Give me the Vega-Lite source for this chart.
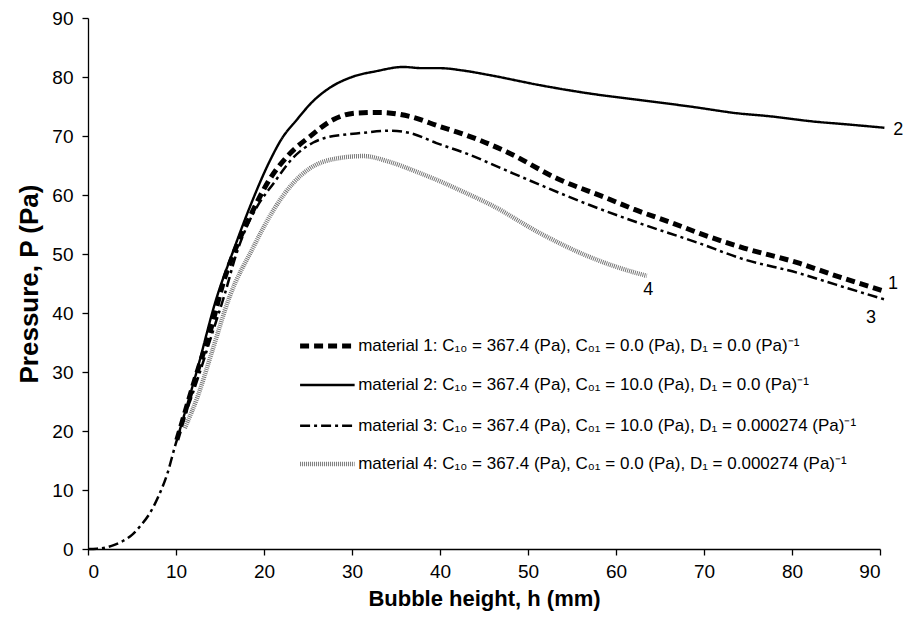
{
  "$schema": "https://vega.github.io/schema/vega-lite/v6.json",
  "autosize": "none",
  "width": 792,
  "height": 531,
  "padding": {"left": 88, "top": 18, "right": 31, "bottom": 71},
  "background": "white",
  "config": {
    "view": {"stroke": null},
    "font": "Liberation Sans",
    "axis": {
      "domainColor": "black", "tickColor": "black", "labelColor": "black", "titleColor": "black",
      "grid": false, "tickSize": 6, "domainWidth": 1.3, "tickWidth": 1.3,
      "labelFontSize": 19, "titleFontSize": 21, "titleFontWeight": "bold", "labelFont": "Liberation Sans", "titleFont": "Liberation Sans"
    }
  },
  "datasets": {
    "curves": [
      {"m": "3", "x": 0, "y": 0}, {"m": "3", "x": 1, "y": 0.05}, {"m": "3", "x": 2, "y": 0.25}, {"m": "3", "x": 3, "y": 0.7},
      {"m": "3", "x": 4, "y": 1.4}, {"m": "3", "x": 5, "y": 2.4}, {"m": "3", "x": 6, "y": 4.0}, {"m": "3", "x": 7, "y": 6.0},
      {"m": "3", "x": 8, "y": 8.9}, {"m": "3", "x": 9, "y": 12.7}, {"m": "3", "x": 10, "y": 18.0}, {"m": "3", "x": 11, "y": 22.5},
      {"m": "3", "x": 12.5, "y": 29}, {"m": "3", "x": 14, "y": 36}, {"m": "3", "x": 15.5, "y": 43}, {"m": "3", "x": 16.9, "y": 50.2},
      {"m": "3", "x": 18, "y": 54.5}, {"m": "3", "x": 19.2, "y": 58}, {"m": "3", "x": 21.1, "y": 62}, {"m": "3", "x": 23.3, "y": 66.3},
      {"m": "3", "x": 25.6, "y": 68.9}, {"m": "3", "x": 27, "y": 69.7}, {"m": "3", "x": 29, "y": 70.2}, {"m": "3", "x": 31, "y": 70.5},
      {"m": "3", "x": 34.3, "y": 70.9}, {"m": "3", "x": 36.6, "y": 70.5}, {"m": "3", "x": 39.6, "y": 68.8}, {"m": "3", "x": 43.4, "y": 66.8},
      {"m": "3", "x": 47, "y": 64.5}, {"m": "3", "x": 51.4, "y": 61.7}, {"m": "3", "x": 57, "y": 58.3}, {"m": "3", "x": 62.7, "y": 55.2},
      {"m": "3", "x": 69.5, "y": 51.8}, {"m": "3", "x": 74.1, "y": 49.3}, {"m": "3", "x": 80.9, "y": 46.7}, {"m": "3", "x": 85, "y": 44.8},
      {"m": "3", "x": 90.5, "y": 42.3},

      {"m": "2", "x": 10.1, "y": 18.5}, {"m": "2", "x": 12.3, "y": 29.8}, {"m": "2", "x": 14.6, "y": 42.5}, {"m": "2", "x": 16.5, "y": 50.5},
      {"m": "2", "x": 18.4, "y": 58}, {"m": "2", "x": 20.7, "y": 65.9}, {"m": "2", "x": 22, "y": 69.5}, {"m": "2", "x": 23.7, "y": 72.7},
      {"m": "2", "x": 25.5, "y": 75.8}, {"m": "2", "x": 27.5, "y": 78.2}, {"m": "2", "x": 30, "y": 80.0}, {"m": "2", "x": 32.8, "y": 81.0},
      {"m": "2", "x": 35.8, "y": 81.7}, {"m": "2", "x": 38, "y": 81.5}, {"m": "2", "x": 40, "y": 81.5}, {"m": "2", "x": 42.6, "y": 81.1},
      {"m": "2", "x": 45.7, "y": 80.3}, {"m": "2", "x": 51.4, "y": 78.6}, {"m": "2", "x": 57, "y": 77.2}, {"m": "2", "x": 62.7, "y": 76.1},
      {"m": "2", "x": 68.4, "y": 75}, {"m": "2", "x": 74.1, "y": 73.8}, {"m": "2", "x": 77.1, "y": 73.4}, {"m": "2", "x": 82.8, "y": 72.4},
      {"m": "2", "x": 86, "y": 72}, {"m": "2", "x": 90.5, "y": 71.4},

      {"m": "1", "x": 10.1, "y": 18.5}, {"m": "1", "x": 12.3, "y": 29.5}, {"m": "1", "x": 14, "y": 37.5}, {"m": "1", "x": 15.4, "y": 45.3},
      {"m": "1", "x": 16.8, "y": 51}, {"m": "1", "x": 18.4, "y": 56.3}, {"m": "1", "x": 20.7, "y": 62.8}, {"m": "1", "x": 22.8, "y": 66.8},
      {"m": "1", "x": 25.2, "y": 69.9}, {"m": "1", "x": 27.9, "y": 72.8}, {"m": "1", "x": 30.5, "y": 73.9}, {"m": "1", "x": 33.2, "y": 74.0},
      {"m": "1", "x": 36.6, "y": 73.3}, {"m": "1", "x": 40, "y": 71.6}, {"m": "1", "x": 42.3, "y": 70.5}, {"m": "1", "x": 47.6, "y": 67.3},
      {"m": "1", "x": 53.3, "y": 62.8}, {"m": "1", "x": 58.9, "y": 59.5}, {"m": "1", "x": 62, "y": 57.6}, {"m": "1", "x": 66.5, "y": 55.2},
      {"m": "1", "x": 69.5, "y": 53.5}, {"m": "1", "x": 74.1, "y": 51.2}, {"m": "1", "x": 80.9, "y": 48.4}, {"m": "1", "x": 85, "y": 46.3},
      {"m": "1", "x": 90.5, "y": 43.7},

      {"m": "4", "x": 11, "y": 20.5}, {"m": "4", "x": 12.5, "y": 26}, {"m": "4", "x": 14, "y": 33}, {"m": "4", "x": 16.1, "y": 42.8},
      {"m": "4", "x": 18.8, "y": 51.2}, {"m": "4", "x": 21.1, "y": 57.5}, {"m": "4", "x": 23.3, "y": 62}, {"m": "4", "x": 25.2, "y": 64.5},
      {"m": "4", "x": 28.3, "y": 66.2}, {"m": "4", "x": 31.3, "y": 66.6}, {"m": "4", "x": 34.3, "y": 65.6}, {"m": "4", "x": 37.4, "y": 63.9},
      {"m": "4", "x": 40.2, "y": 62.2}, {"m": "4", "x": 43, "y": 60.3}, {"m": "4", "x": 45.7, "y": 58.4}, {"m": "4", "x": 51.4, "y": 53.5},
      {"m": "4", "x": 57, "y": 49.5}, {"m": "4", "x": 62.5, "y": 46.7}, {"m": "4", "x": 63.5, "y": 46.3}
    ],
    "legendLines": [
      {"m": "1", "x": 24.1, "y": 34.4}, {"m": "1", "x": 30.3, "y": 34.4},
      {"m": "2", "x": 24.1, "y": 27.8}, {"m": "2", "x": 30.3, "y": 27.8},
      {"m": "3", "x": 24.1, "y": 20.9}, {"m": "3", "x": 30.3, "y": 20.9},
      {"m": "4", "x": 24.1, "y": 14.4}, {"m": "4", "x": 30.3, "y": 14.4}
    ],
    "legendText": [
      {"x": 30.7, "y": 34.4, "t": "material 1: C₁₀ = 367.4 (Pa), C₀₁ = 0.0 (Pa), D₁ = 0.0 (Pa)⁻¹"},
      {"x": 30.7, "y": 27.8, "t": "material 2: C₁₀ = 367.4 (Pa), C₀₁ = 10.0 (Pa), D₁ = 0.0 (Pa)⁻¹"},
      {"x": 30.7, "y": 20.9, "t": "material 3: C₁₀ = 367.4 (Pa), C₀₁ = 10.0 (Pa), D₁ = 0.000274 (Pa)⁻¹"},
      {"x": 30.7, "y": 14.4, "t": "material 4: C₁₀ = 367.4 (Pa), C₀₁ = 0.0 (Pa), D₁ = 0.000274 (Pa)⁻¹"}
    ],
    "endLabels": [
      {"x": 90.9, "y": 45.0, "t": "1"},
      {"x": 91.5, "y": 71.0, "t": "2"},
      {"x": 88.4, "y": 39.2, "t": "3"},
      {"x": 63.1, "y": 43.9, "t": "4"}
    ]
  },
  "layer": [
    {
      "data": {"name": "curves"},
      "mark": {"type": "line", "interpolate": "monotone", "clip": false},
      "encoding": {
        "x": {"field": "x", "type": "quantitative", "scale": {"domain": [0, 90], "nice": false},
              "axis": {"values": [0, 10, 20, 30, 40, 50, 60, 70, 80, 90], "title": "Bubble height, h  (mm)", "titleFontSize": 22, "titlePadding": 7, "labelPadding": 7}},
        "y": {"field": "y", "type": "quantitative", "scale": {"domain": [0, 90], "nice": false},
              "axis": {"values": [0, 10, 20, 30, 40, 50, 60, 70, 80, 90], "title": "Pressure, P (Pa)", "titleFontSize": 26, "titlePadding": 9, "labelPadding": 9}},
        "detail": {"field": "m"},
        "color": {"field": "m", "type": "nominal", "scale": {"domain": ["1", "2", "3", "4"], "range": ["black", "black", "black", "#777777"]}, "legend": null},
        "strokeDash": {"field": "m", "type": "nominal", "scale": {"domain": ["1", "2", "3", "4"], "range": [[9, 5], [1, 0], [10, 4, 3, 4], [1, 1]]}, "legend": null},
        "strokeWidth": {"field": "m", "type": "nominal", "scale": {"type": "ordinal", "domain": ["1", "2", "3", "4"], "range": [5, 2.4, 2.5, 4.5]}, "legend": null},
        "order": {"field": "x", "type": "quantitative"}
      }
    },
    {
      "data": {"name": "legendLines"},
      "mark": {"type": "line"},
      "encoding": {
        "x": {"field": "x", "type": "quantitative"},
        "y": {"field": "y", "type": "quantitative"},
        "detail": {"field": "m"},
        "color": {"field": "m", "type": "nominal", "scale": {"domain": ["1", "2", "3", "4"], "range": ["black", "black", "black", "#777777"]}, "legend": null},
        "strokeDash": {"field": "m", "type": "nominal", "scale": {"domain": ["1", "2", "3", "4"], "range": [[9, 5], [1, 0], [10, 4, 3, 4], [1, 1]]}, "legend": null},
        "strokeWidth": {"field": "m", "type": "nominal", "scale": {"type": "ordinal", "domain": ["1", "2", "3", "4"], "range": [5, 2.4, 2.5, 4.5]}, "legend": null}
      }
    },
    {
      "data": {"name": "legendText"},
      "mark": {"type": "text", "align": "left", "baseline": "middle", "fontSize": 17, "color": "black", "font": "Liberation Sans"},
      "encoding": {
        "x": {"field": "x", "type": "quantitative"},
        "y": {"field": "y", "type": "quantitative"},
        "text": {"field": "t"}
      }
    },
    {
      "data": {"name": "endLabels"},
      "mark": {"type": "text", "align": "left", "baseline": "middle", "fontSize": 18, "color": "black", "font": "Liberation Sans"},
      "encoding": {
        "x": {"field": "x", "type": "quantitative"},
        "y": {"field": "y", "type": "quantitative"},
        "text": {"field": "t"}
      }
    }
  ]
}
